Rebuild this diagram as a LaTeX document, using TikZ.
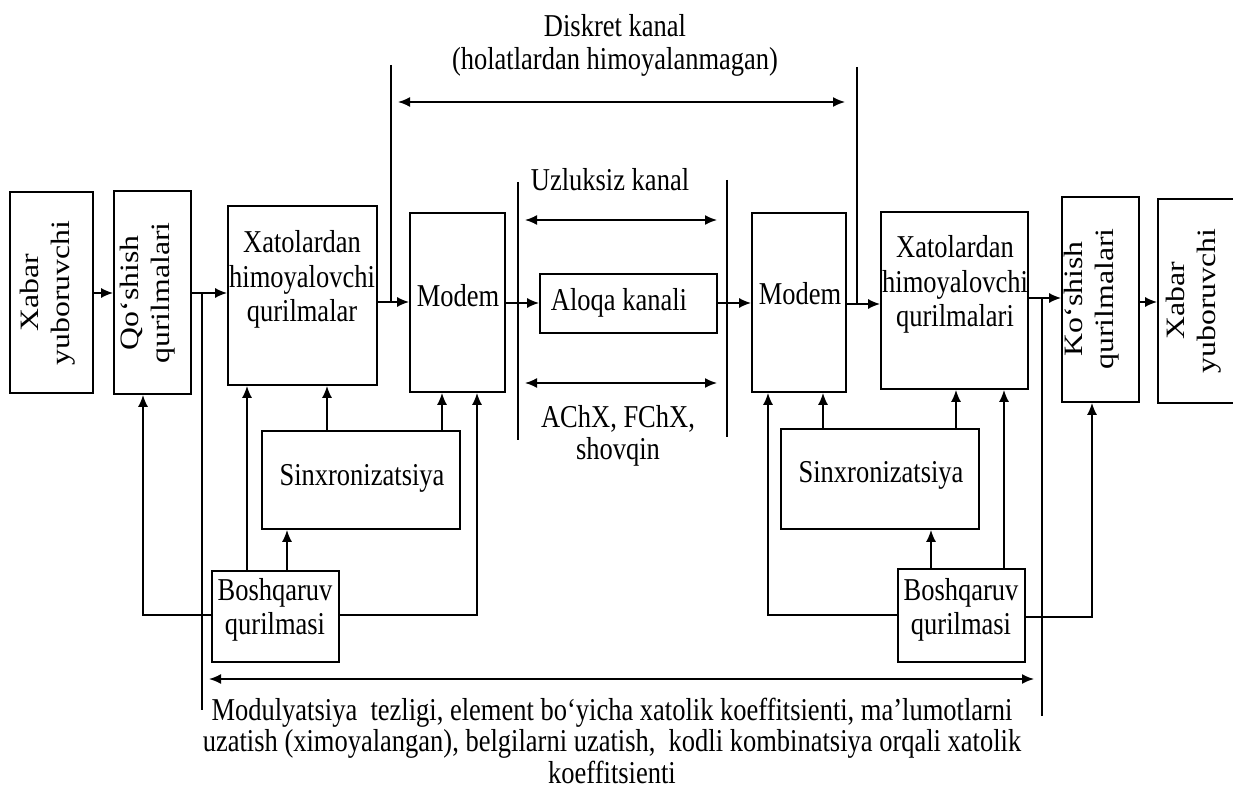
\documentclass[tikz,border=0pt]{standalone}
\usepackage{fontspec}
\setmainfont{Liberation Serif}
\usepackage{graphicx}
\usetikzlibrary{arrows.meta,fit}
\newcommand{\hxt}[1]{\scalebox{1}[1.2]{\begin{tabular}[t]{@{}c@{}}#1\end{tabular}}}
\newcommand{\vxt}[1]{\rotatebox{90}{\scalebox{1.2}[1]{\begin{tabular}{@{}c@{}}#1\end{tabular}}}}
\begin{document}
\begin{tikzpicture}[x=1pt,y=-1pt,
  box/.style={draw, line width=1.7pt, inner sep=0pt},
  ln/.style={line width=1.7pt},
  arr/.style={ln, -{Latex[length=12pt,width=10pt]}},
  darr/.style={ln, {Latex[length=12pt,width=10pt]}-{Latex[length=12pt,width=10pt]}},
  lbl/.style={inner sep=0pt, anchor=base, font=\fontsize{26.5}{28.5}\selectfont},
  vlbl/.style={inner sep=0pt, anchor=center, font=\fontsize{26.5}{31}\selectfont}]
\useasboundingbox (0,0) rectangle (1233,794);
\fill[white] (0,0) rectangle (1233,794);

% boxes
\node[box, fit={(10,192) (93,393)}] (xab1) {};
\node[box, fit={(114,191) (191,394)}] (qosh) {};
\node[box, fit={(228,206) (377,385)}] (xatL) {};
\node[box, fit={(410,213) (505,392)}] (modL) {};
\node[box, fit={(540,274) (717,333)}] (aloqa) {};
\node[box, fit={(752,213) (846,392)}] (modR) {};
\node[box, fit={(881,212) (1028,389)}] (xatR) {};
\node[box, fit={(1062,197) (1139,402)}] (kosh) {};
\node[box, fit={(1158,199) (1240,403)}] (xab2) {};
\node[box, fit={(262,431) (460,529)}] (sinL) {};
\node[box, fit={(781,429) (979,529)}] (sinR) {};
\node[box, fit={(212,571) (339,662)}] (boshL) {};
\node[box, fit={(898,569) (1025,662)}] (boshR) {};

% texts in boxes
\node[vlbl] (tXab1) at (48,293) {\vxt{Xabar\\yuboruvchi}};
\node[vlbl] (tQosh) at (148,293) {\vxt{Qo‘shish\\qurilmalari}};
\node[lbl] (tXatL) at (302,253) {\hxt{Xatolardan\\himoyalovchi\\qurilmalar}};
\node[lbl] (tModL) at (458,306) {\hxt{Modem}};
\node[lbl] (tAloqa) at (619,310) {\hxt{Aloqa kanali}};
\node[lbl] (tModR) at (800,304) {\hxt{Modem}};
\node[lbl] (tXatR) at (955,258) {\hxt{Xatolardan\\himoyalovchi\\qurilmalari}};
\node[vlbl] (tKosh) at (1092,299) {\vxt{Ko‘shish\\qurilmalari}};
\node[vlbl] (tXab2) at (1194,301) {\vxt{Xabar\\yuboruvchi}};
\node[lbl] (tSinL) at (362,485) {\hxt{Sinxronizatsiya}};
\node[lbl] (tSinR) at (881,482) {\hxt{Sinxronizatsiya}};
\node[lbl] (tBoshL) at (275,600) {\hxt{Boshqaruv\\qurilmasi}};
\node[lbl] (tBoshR) at (961,600) {\hxt{Boshqaruv\\qurilmasi}};

% free labels
\node[lbl, font=\fontsize{26.5}{27.5}\selectfont] (tDisk) at (615,37) {\hxt{Diskret kanal\\(holatlardan himoyalanmagan)}};
\node[lbl] (tUzl) at (610,191) {\hxt{Uzluksiz kanal}};
\node[lbl, font=\fontsize{26.5}{27}\selectfont] (tAch) at (618,427) {\hxt{AChX, FChX,\\shovqin}};
\node[lbl, font=\fontsize{26.5}{26}\selectfont] (tBot) at (612,720) {\hxt{Modulyatsiya\ \ tezligi, element bo‘yicha xatolik koeffitsienti, ma’lumotlarni\\uzatish (ximoyalangan), belgilarni uzatish,\ \ kodli kombinatsiya orqali xatolik\\koeffitsienti}};

% boundary lines
\coordinate (dL) at (391,65);
\coordinate (dR) at (857,67);
\coordinate (uL) at (518,182);
\coordinate (uR) at (727,180);
\coordinate (jL) at (202,293);
\coordinate (jR) at (1042,298);
\draw[ln] (dL) -- (dL |- 0,302);
\draw[ln] (dR) -- (dR |- 0,304);
\draw[ln] (uL) -- (uL |- 0,440);
\draw[ln] (uR) -- (uR |- 0,437);
\draw[ln] (jL) -- (jL |- 0,710);
\draw[ln] (jR) -- (jR |- 0,716);

% double arrows
\coordinate (dA) at (398,102); \coordinate (dB) at (845,102);
\coordinate (uA1) at (525,220); \coordinate (uB1) at (717,220);
\coordinate (uA2) at (525,383); \coordinate (uB2) at (717,383);
\coordinate (bA) at (209,679); \coordinate (bB) at (1034,679);
\draw[darr] (dA) -- (dB);
\draw[darr] (uA1) -- (uB1);
\draw[darr] (uA2) -- (uB2);
\draw[darr] (bA) -- (bB);

% main chain
\draw[arr] (xab1.east |- 0,293) -- (qosh.west |- 0,293);
\draw[arr] (qosh.east |- 0,293) -- (xatL.west |- 0,293);
\draw[arr] (xatL.east |- 0,302) -- (modL.west |- 0,302);
\draw[arr] (modL.east |- 0,303) -- (aloqa.west |- 0,303);
\draw[arr] (aloqa.east |- 0,303) -- (modR.west |- 0,303);
\draw[arr] (modR.east |- 0,304) -- (xatR.west |- 0,304);
\draw[arr] (xatR.east |- 0,298) -- (kosh.west |- 0,298);
\draw[arr] (kosh.east |- 0,302) -- (xab2.west |- 0,302);

% left control
\draw[arr] (boshL.west |- 0,615) -| (143,0 |- qosh.south);
\draw[arr] (boshL.north -| 247,0) -- (247,0 |- xatL.south);
\draw[arr] (boshL.north -| 287,0) -- (287,0 |- sinL.south);
\draw[arr] (boshL.east |- 0,615) -| (477,0 |- modL.south);
\draw[arr] (sinL.north -| 327,0) -- (327,0 |- xatL.south);
\draw[arr] (sinL.north -| 442,0) -- (442,0 |- modL.south);

% right control
\draw[arr] (boshR.west |- 0,615) -| (768,0 |- modR.south);
\draw[arr] (boshR.north -| 931,0) -- (931,0 |- sinR.south);
\draw[arr] (boshR.north -| 1004,0) -- (1004,0 |- xatR.south);
\draw[arr] (sinR.north -| 823,0) -- (823,0 |- modR.south);
\draw[arr] (sinR.north -| 956,0) -- (956,0 |- xatR.south);
\draw[arr] (boshR.east |- 0,617) -| (1092,0 |- kosh.south);
\end{tikzpicture}
\end{document}
